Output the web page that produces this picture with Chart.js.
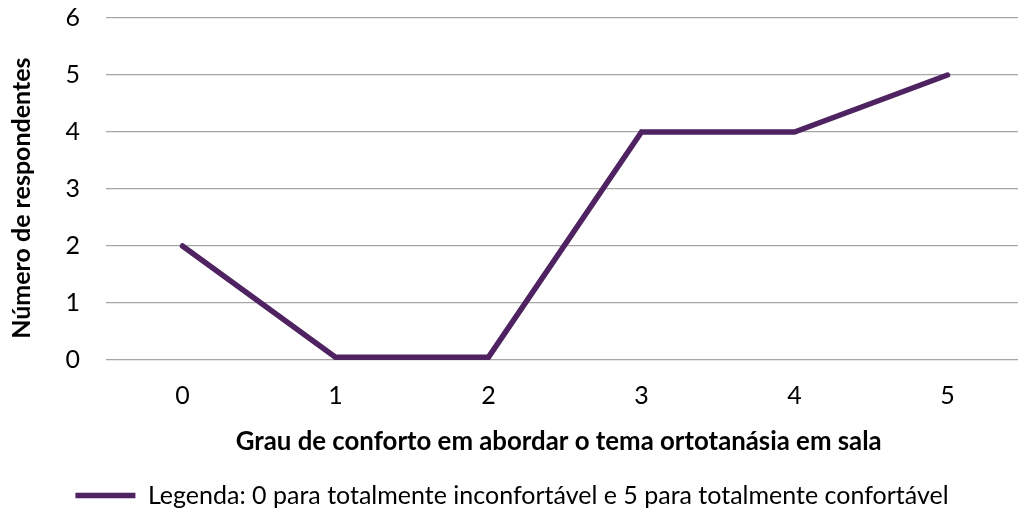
<!DOCTYPE html>
<html>
<head>
<meta charset="utf-8">
<script src="https://cdn.jsdelivr.net/npm/chart.js@4"></script>
<style>
  html, body { margin: 0; padding: 0; background: #fff; overflow: hidden; }
  #wrap { width: 1024px; height: 510px; }
</style>
</head>
<body>
<div id="wrap"><canvas id="chart" width="1024" height="510"></canvas></div>
<script>
const categories = ["0", "1", "2", "3", "4", "5"];
const respondents = [2, 0.05, 0.05, 4, 4, 5];
const seriesLabel = "Legenda: 0 para totalmente inconfortável e 5 para totalmente confortável";
// trailing no-break spaces nudge the centred titles like the original layout
const xTitle = "Grau de conforto em abordar o tema ortotanásia em sala\u00a0\u00a0";
const yTitle = "Número de respondentes\u00a0\u00a0\u00a0";

const lineColor = "#4f2361";
const fontFamily = "Lato, 'Noto Sans', sans-serif";

new Chart(document.getElementById("chart"), {
  type: "line",
  data: {
    labels: categories,
    datasets: [{
      label: seriesLabel,
      data: respondents,
      borderColor: lineColor,
      backgroundColor: lineColor,
      borderWidth: 5.5,
      borderCapStyle: "round",
      borderJoinStyle: "miter",
      pointRadius: 0,
      tension: 0,
    }],
  },
  options: {
    responsive: false,
    animation: false,
    layout: { padding: { top: 0, right: 0, bottom: -8, left: 0 } },
    plugins: {
      legend: {
        position: "bottom",
        labels: {
          usePointStyle: true,
          pointStyle: "line",
          pointStyleWidth: 60,
          boxWidth: 60,
          boxHeight: 6,
          color: "#000",
          padding: 2,
          font: { family: fontFamily, size: 25 },
        },
      },
      tooltip: { enabled: false },
    },
    scales: {
      x: {
        offset: true,
        grid: { display: false, drawTicks: false },
        border: { display: false },
        ticks: { color: "#000", padding: 21, font: { family: fontFamily, size: 25 } },
        title: {
          display: true,
          text: xTitle,
          color: "#000",
          padding: { top: 0, bottom: 24 },
          font: { family: fontFamily, size: 25.8, weight: "bold" },
        },
        afterFit(scale) { scale.height = 121; },
      },
      y: {
        min: 0,
        max: 6,
        grid: { color: "#a6a6a6", lineWidth: 1.3, drawTicks: true, tickLength: 23, tickColor: "rgba(0,0,0,0)" },
        border: { display: false },
        ticks: { stepSize: 1, color: "#000", padding: 3, font: { family: fontFamily, size: 25 } },
        title: {
          display: true,
          text: yTitle,
          color: "#000",
          padding: { top: 7, bottom: 0 },
          font: { family: fontFamily, size: 25, weight: "bold" },
        },
        afterFit(scale) { scale.width = 106; },
      },
    },
  },
});
</script>
</body>
</html>
